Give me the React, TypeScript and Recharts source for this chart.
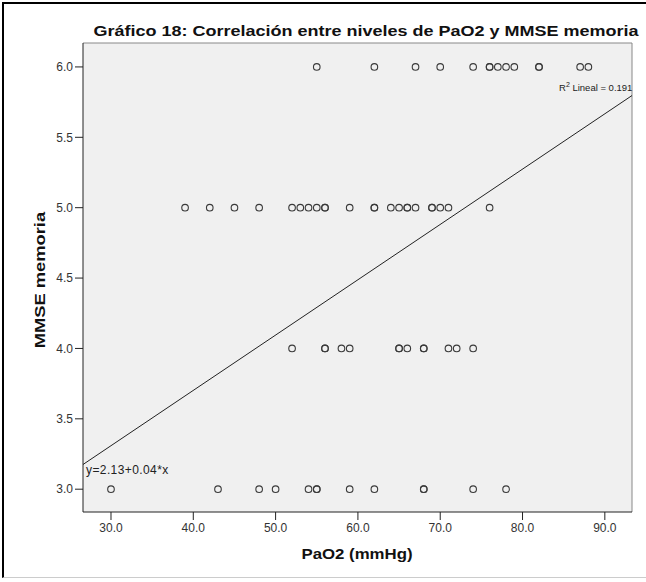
import React from "react";
import {
  ScatterChart,
  Scatter,
  XAxis,
  YAxis,
  CartesianGrid,
  ReferenceLine,
} from "recharts";

// PaO2 values (mmHg) for each MMSE memoria level
const PAO2_AT_6 = [55, 62, 67, 70, 74, 76, 76, 77, 78, 79, 82, 82, 87, 88];
const PAO2_AT_5 = [39, 42, 45, 48, 52, 53, 54, 55, 56, 56, 59, 62, 62, 64, 65, 66, 66, 67, 69, 69, 70, 71, 76];
const PAO2_AT_4 = [52, 56, 56, 58, 59, 65, 65, 66, 68, 68, 71, 72, 74];
const PAO2_AT_3 = [30, 43, 48, 50, 54, 55, 55, 59, 62, 68, 68, 74, 78];
const MMSE_LEVELS = [6, 5, 4, 3];

const X_TICKS = [30, 40, 50, 60, 70, 80, 90];
const Y_TICKS = [3, 3.5, 4, 4.5, 5, 5.5, 6];
const X_DOMAIN = [26.6, 93.3];
const Y_DOMAIN = [2.838, 6.17];

// fitted line as drawn
const FIT_INTERCEPT = 2.13;
const FIT_SLOPE = 0.0393;
const FIT_LABEL = "y=2.13+0.04*x";
const R2_VALUE = "0.191";

const TITLE = "Gráfico 18: Correlación entre niveles de PaO2 y MMSE memoria";
const X_TITLE = "PaO2 (mmHg)";
const Y_TITLE = "MMSE memoria";

const groups = [PAO2_AT_6, PAO2_AT_5, PAO2_AT_4, PAO2_AT_3];
const points = groups.flatMap((xs, i) =>
  xs.map((x) => ({ x, y: MMSE_LEVELS[i] }))
);

const Ring = (props: any) => {
  const { cx, cy } = props;
  if (cx == null || cy == null) return null;
  return <circle cx={cx} cy={cy} r={3.3} fill="none" stroke="#3a3a3a" strokeWidth={1.1} />;
};

const font = "Arial, 'Liberation Sans', sans-serif";

export default function App() {
  const fitSeg = [
    { x: X_DOMAIN[0], y: FIT_INTERCEPT + FIT_SLOPE * X_DOMAIN[0] },
    { x: X_DOMAIN[1], y: FIT_INTERCEPT + FIT_SLOPE * X_DOMAIN[1] },
  ];
  return (
    <div style={{ position: "relative", width: 646, height: 582, background: "#fff", fontFamily: font }}>
      <style>{`body{margin:0}`}</style>
      <div
        style={{
          position: "absolute",
          left: 2,
          top: 2,
          width: 644,
          height: 576,
          borderLeft: "2px solid #000",
          borderTop: "2px solid #000",
          borderBottom: "1px solid #ccc",
          boxSizing: "border-box",
        }}
      />
      <ScatterChart
        width={646}
        height={582}
        margin={{ top: 43, right: 14, bottom: 0, left: 0 }}
        style={{ position: "absolute", left: 0, top: 0 }}
      >
        <CartesianGrid fill="#f0f0f0" horizontal={false} vertical={false} />
        <XAxis
          type="number"
          dataKey="x"
          domain={X_DOMAIN}
          ticks={X_TICKS}
          allowDataOverflow
          height={70}
          tickSize={8}
          tickMargin={3}
          tickFormatter={(v: number) => v.toFixed(1)}
          tick={{ fontSize: 12, fill: "#333", fontFamily: font }}
          axisLine={{ stroke: "#222" }}
          tickLine={{ stroke: "#222" }}
        />
        <YAxis
          type="number"
          dataKey="y"
          domain={Y_DOMAIN}
          ticks={Y_TICKS}
          allowDataOverflow
          width={83}
          tickSize={8}
          tickMargin={2}
          tickFormatter={(v: number) => v.toFixed(1)}
          tick={{ fontSize: 12, fill: "#333", fontFamily: font }}
          axisLine={{ stroke: "#222" }}
          tickLine={{ stroke: "#222" }}
        />
        <ReferenceLine y={Y_DOMAIN[1]} stroke="#888" />
        <ReferenceLine x={X_DOMAIN[1]} stroke="#888" />
        <ReferenceLine segment={fitSeg} stroke="#222" strokeWidth={1} />
        <Scatter data={points} shape={<Ring />} isAnimationActive={false} />
      </ScatterChart>
      <div
        style={{
          position: "absolute",
          left: 366,
          top: 30,
          transform: "translate(-50%, -50%) scaleX(1.2)",
          fontWeight: "bold",
          fontSize: 15,
          color: "#111",
          whiteSpace: "nowrap",
        }}
      >
        {TITLE}
      </div>
      <div
        style={{
          position: "absolute",
          left: 559,
          top: 81,
          fontSize: 9.5,
          color: "#222",
          whiteSpace: "nowrap",
        }}
      >
        R<sup style={{ fontSize: 7 }}>2</sup> Lineal = {R2_VALUE}
      </div>
      <div
        style={{
          position: "absolute",
          left: 86,
          top: 463,
          fontSize: 12,
          letterSpacing: 0.4,
          color: "#222",
          whiteSpace: "nowrap",
        }}
      >
        {FIT_LABEL}
      </div>
      <div
        style={{
          position: "absolute",
          left: 357,
          top: 554,
          transform: "translate(-50%, -50%) scaleX(1.2)",
          fontWeight: "bold",
          fontSize: 14,
          color: "#111",
          whiteSpace: "nowrap",
        }}
      >
        {X_TITLE}
      </div>
      <div
        style={{
          position: "absolute",
          left: 39,
          top: 280,
          transform: "translate(-50%, -50%) rotate(-90deg) scaleX(1.22)",
          fontWeight: "bold",
          fontSize: 15,
          color: "#111",
          whiteSpace: "nowrap",
        }}
      >
        {Y_TITLE}
      </div>
    </div>
  );
}
